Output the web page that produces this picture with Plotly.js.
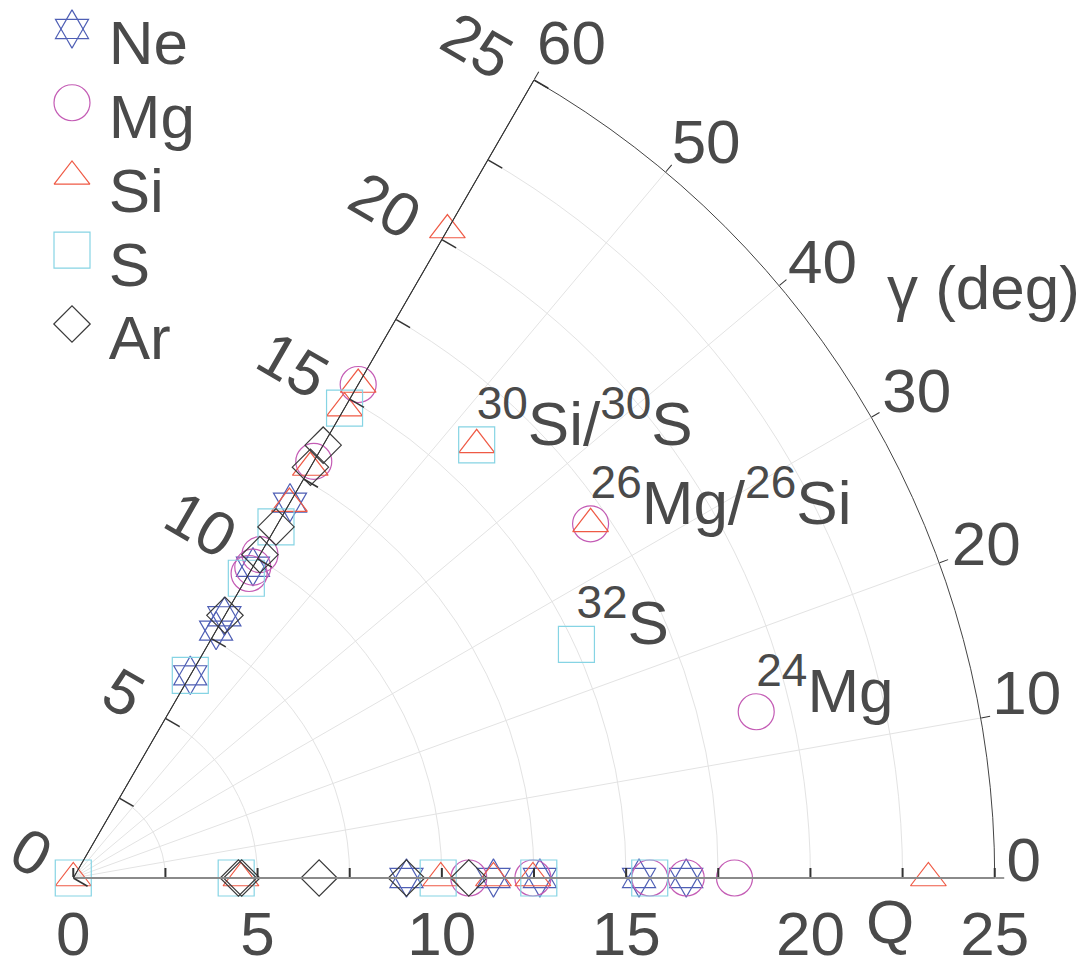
<!DOCTYPE html>
<html><head><meta charset="utf-8">
<script src="https://cdn.plot.ly/plotly-3.0.1.min.js"></script>
<style>html,body{margin:0;padding:0;background:#fff}#chart{width:1085px;height:967px}</style>
</head><body><div id="chart"></div>
<script>
// ---- data: Q (radial) and gamma in degrees (angular) ----
const neQ     = [9.04, 11.4, 12.66, 15.35, 16.63, 6.35, 7.75, 8.2, 9.75, 11.76];
const neGamma = [0, 0, 0, 0, 0, 60, 60, 60, 60, 60];
const mgQ     = [10.73, 12.47, 15.64, 16.63, 17.94, 9.54, 9.74, 10.13, 13.05, 15.46, 19.07, 17.01];
const mgGamma = [0, 0, 0, 0, 0, 60, 60, 60, 60, 60, 13.68, 34.4];
const siQ     = [0, 4.55, 9.97, 11.4, 12.47, 23.2, 11.73, 12.86, 14.72, 15.46, 20.3, 17.01, 16.06];
const siGamma = [0, 0, 0, 0, 0, 0, 60, 60, 60, 60, 60, 34.4, 47.04];
const sQ      = [0, 4.42, 9.9, 12.63, 15.64, 6.35, 9.39, 11.0, 14.72, 16.06, 15.05];
const sGamma  = [0, 0, 0, 0, 0, 60, 60, 60, 60, 47.04, 24.9];
const arQ     = [4.48, 4.57, 6.67, 9.04, 10.73, 8.23, 10.13, 11.0, 12.87, 13.56];
const arGamma = [0, 0, 0, 0, 0, 60, 60, 60, 60, 60];

const isoLabels = ['<sup><span style="font-size:46px">30</span></sup>Si/<sup><span style="font-size:46px">30</span></sup>S',
                   '<sup><span style="font-size:46px">26</span></sup>Mg/<sup><span style="font-size:46px">26</span></sup>Si',
                   '<sup><span style="font-size:46px">32</span></sup>S',
                   '<sup><span style="font-size:46px">24</span></sup>Mg'];
const isoQ      = [16.06, 17.01, 15.05, 19.07];
const isoGamma  = [47.04, 34.4, 24.9, 13.68];

const qTickVals  = [0, 2.5, 5, 7.5, 10, 12.5, 15, 17.5, 20, 22.5, 25];
const qLabelVals = [0, 5, 10, 15, 20, 25];
const gammaTicks = [0, 10, 20, 30, 40, 50, 60];
const legendNames = ['Ne', 'Mg', 'Si', 'S', 'Ar'];

// ---- styles ----
const FONT = 'Liberation Sans, Arial, Helvetica, sans-serif';
const TXT = '#4a4a4a';
const FS = 62;
const C = {Ne: '#4f5fb5', Mg: '#c45cb5', Si: '#ef5a45', S: '#86d4e4', Ar: '#3a3a3a'};
const SYM = {
  Ne: [['hexagram-open', 29], ['hexagon2-open', 22]],
  Mg: [['circle-open', 36]],
  Si: [['triangle-up-open', 31]],
  S:  [['square-open', 36]],
  Ar: [['diamond-open', 28]]
};
const DATA = {Ne: [neQ, neGamma], Mg: [mgQ, mgGamma], Si: [siQ, siGamma], S: [sQ, sGamma], Ar: [arQ, arGamma]};

const traces = [];
legendNames.forEach(name => {
  SYM[name].forEach(([sym, size]) => {
    traces.push({
      type: 'scatterpolar', subplot: 'polar', mode: 'markers', name: name, showlegend: false,
      r: DATA[name][0], theta: DATA[name][1],
      marker: {symbol: sym, size: size, color: C[name], line: {color: C[name], width: 1.2}},
      hoverinfo: 'skip'
    });
  });
});
// helper (empty) traces so the extra axis layers are drawn
['polar2', 'polar3', 'polar4', 'polar6', 'polar7', 'polar8'].forEach(sp => {
  traces.push({type: 'scatterpolar', subplot: sp, r: [], theta: [], mode: 'markers', showlegend: false, hoverinfo: 'skip'});
});
// isotope labels (text baseline on the point: layer offset by the text shift)
traces.push({
  type: 'scatterpolar', subplot: 'polar5', mode: 'text', r: isoQ, theta: isoGamma,
  text: isoLabels, textposition: 'top right', showlegend: false, hoverinfo: 'skip',
  textfont: {family: FONT, size: FS, color: TXT}
});

// custom legend (large markers)
legendNames.forEach(name => {
  SYM[name].forEach(([sym, size]) => {
    traces.push({
      type: 'scatter', xaxis: 'x', yaxis: 'y', mode: 'markers', x: [0], y: [name], showlegend: false, hoverinfo: 'skip',
      marker: {symbol: sym, size: size, color: C[name], line: {color: C[name], width: 1.2}}
    });
  });
});
traces.push({
  type: 'scatter', xaxis: 'x', yaxis: 'y2', mode: 'text', x: legendNames.map(() => 0.113), y: legendNames,
  text: legendNames, textposition: 'middle right', showlegend: false, hoverinfo: 'skip',
  textfont: {family: FONT, size: FS, color: TXT}
});

// ---- geometry ----
const polarDomain = {x: [73 / 1085, 995 / 1085], y: [89 / 967, 887 / 967]};
function shifted(dxPx, dyPx) {   // dyPx: screen pixels, positive = down
  return {x: [polarDomain.x[0] + dxPx / 1085, polarDomain.x[1] + dxPx / 1085],
          y: [polarDomain.y[0] - dyPx / 967, polarDomain.y[1] - dyPx / 967]};
}
const tickFont = {family: FONT, size: FS, color: TXT};
const hiddenAngular = {visible: false, showgrid: false, showline: false, ticks: '', showticklabels: false};
const hiddenRadial = {visible: false, range: [0, 25], showgrid: false, showline: false, ticks: '', showticklabels: false};
function angularLabels(vals) {
  return {
    thetaunit: 'degrees', direction: 'counterclockwise', rotation: 0,
    tickmode: 'array', tickvals: vals, ticktext: vals.map(String),
    ticks: 'outside', ticklen: 9, tickcolor: 'rgba(0,0,0,0)',
    showline: false, showgrid: false, tickfont: tickFont
  };
}

const layout = {
  width: 1085, height: 967,
  margin: {l: 0, r: 0, t: 0, b: 0},
  paper_bgcolor: '#ffffff', plot_bgcolor: 'rgba(0,0,0,0)',
  showlegend: false, hovermode: false, dragmode: false,
  font: {family: FONT, color: TXT},
  polar: {
    domain: polarDomain, sector: [0, 60], bgcolor: 'rgba(0,0,0,0)',
    radialaxis: {
      range: [0, 25], angle: 0, side: 'clockwise', tickmode: 'array', tickvals: qTickVals,
      showticklabels: false,
      ticks: 'inside', ticklen: 9, tickwidth: 2, tickcolor: '#333333',
      showline: true, linecolor: '#8a8a8a', linewidth: 2,
      showgrid: true, gridcolor: '#e3e3e3', gridwidth: 1
    },
    angularaxis: {
      thetaunit: 'degrees', direction: 'counterclockwise', rotation: 0,
      tickmode: 'array', tickvals: gammaTicks, showticklabels: false,
      ticks: 'outside', ticklen: 9, tickwidth: 1, tickcolor: '#333333',
      showline: true, linecolor: '#444444', linewidth: 1,
      showgrid: true, gridcolor: '#e3e3e3', gridwidth: 1
    }
  },
  polar2: {   // second radial axis along gamma = 60 deg: line and ticks
    domain: polarDomain, sector: [0, 60], bgcolor: 'rgba(0,0,0,0)',
    radialaxis: {
      range: [0, 25], angle: 60, side: 'counterclockwise', tickmode: 'array', tickvals: qTickVals,
      showticklabels: false, ticks: 'inside', ticklen: 16, tickwidth: 1.5, tickcolor: '#333333',
      showline: true, linecolor: '#333333', linewidth: 1, showgrid: false
    },
    angularaxis: hiddenAngular
  },
  polar3: {   // Q tick labels along gamma = 0
    domain: shifted(0, 14), sector: [0, 60], bgcolor: 'rgba(0,0,0,0)',
    radialaxis: {
      range: [0, 25], angle: 0, side: 'clockwise', tickmode: 'array', tickvals: qLabelVals,
      ticktext: qLabelVals.map(String), ticks: '', showline: false, showgrid: false, tickfont: tickFont, tickangle: 0
    },
    angularaxis: hiddenAngular
  },
  polar4: {   // Q tick labels along gamma = 60
    domain: shifted(-19, -11), sector: [0, 60], bgcolor: 'rgba(0,0,0,0)',
    radialaxis: {
      range: [0, 25], angle: 60, side: 'counterclockwise', tickmode: 'array', tickvals: qLabelVals,
      ticktext: qLabelVals.map(String), ticks: '', showline: false, showgrid: false,
      tickfont: tickFont, tickangle: 90
    },
    angularaxis: hiddenAngular
  },
  polar5: {   // layer for the isotope labels
    domain: shifted(0, 15.5), sector: [0, 60], bgcolor: 'rgba(0,0,0,0)',
    radialaxis: hiddenRadial, angularaxis: hiddenAngular
  },
  polar6: {domain: shifted(-10, -19), sector: [0, 60], bgcolor: 'rgba(0,0,0,0)', radialaxis: hiddenRadial, angularaxis: angularLabels(gammaTicks.slice(0, 2))},
  polar7: {domain: shifted(-8, -7), sector: [0, 60], bgcolor: 'rgba(0,0,0,0)', radialaxis: hiddenRadial, angularaxis: angularLabels(gammaTicks.slice(2, 4))},
  polar8: {domain: shifted(-8, 3), sector: [0, 60], bgcolor: 'rgba(0,0,0,0)', radialaxis: hiddenRadial, angularaxis: angularLabels(gammaTicks.slice(4))},
  xaxis: {domain: [0, 0.3], range: [-0.2212, 0.7788], visible: false, fixedrange: true},
  yaxis: {domain: [0.6174, 1], range: [4.624, -0.393], type: 'category', categoryorder: 'array', categoryarray: legendNames, visible: false, fixedrange: true},
  yaxis2: {domain: [0.6174, 1], range: [4.353, -0.664], type: 'category', categoryorder: 'array', categoryarray: legendNames, visible: false, fixedrange: true, overlaying: 'y'},
  annotations: [
    {text: 'Q', xref: 'paper', yref: 'paper', x: 890 / 1085, y: 1 - 921 / 967, xanchor: 'center', yanchor: 'middle', showarrow: false, font: {family: FONT, size: FS, color: TXT}},
    {text: 'γ (deg)', xref: 'paper', yref: 'paper', x: 983 / 1085, y: 1 - 288 / 967, xanchor: 'center', yanchor: 'middle', showarrow: false, font: {family: FONT, size: FS, color: TXT}}
  ]
};

Plotly.newPlot('chart', traces, layout, {displayModeBar: false, staticPlot: true});
</script>
</body></html>
